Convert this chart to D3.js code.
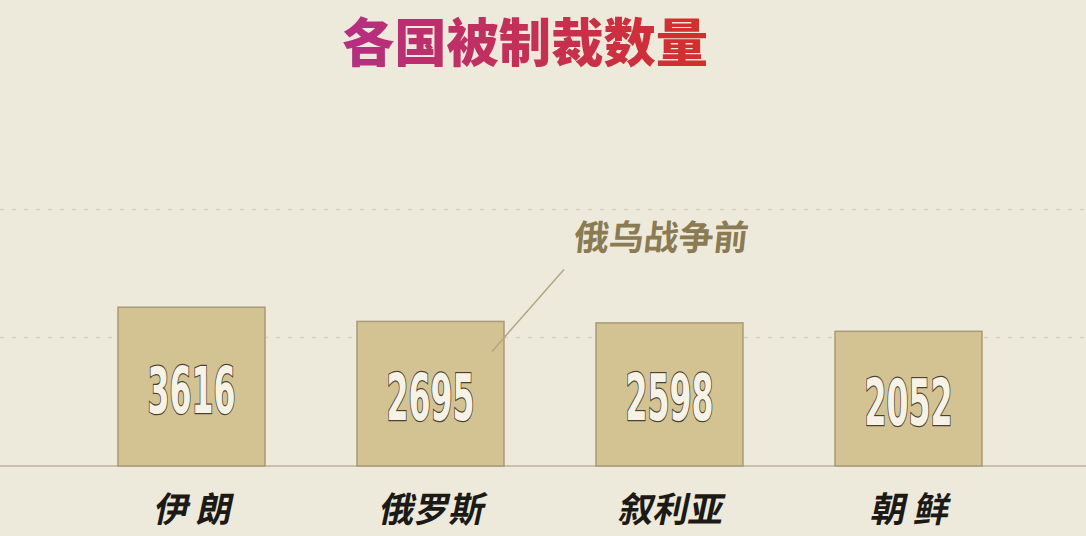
<!DOCTYPE html>
<html>
<head>
<meta charset="utf-8">
<script src="https://cdn.jsdelivr.net/npm/d3@7/dist/d3.min.js"></script>
<style>
  html, body { margin: 0; padding: 0; background: #eeeadb; }
  svg { display: block; }
</style>
</head>
<body>
<svg id="chart"></svg>
<script>
const width = 1086;
const height = 536;

// data
const countries = ['伊 朗', '俄罗斯', '叙利亚', '朝 鲜'];
const sanctions = [3616, 2695, 2598, 2052];
const gridValues = [1700, 10000];  // dashed guide lines
const noteText = '俄乌战争前';
const noteIndex = 1;  // bar the note points at

const baseY = 466;

const svg = d3.select('#chart')
    .attr('width', width)
    .attr('height', height);

svg.append('rect')
    .attr('width', width)
    .attr('height', height)
    .attr('fill', '#eeeadb');

const defs = svg.append('defs');
const grad = defs.append('linearGradient')
    .attr('id', 'titleGrad')
    .attr('x1', '0%').attr('x2', '100%')
    .attr('y1', '0%').attr('y2', '0%');
grad.append('stop').attr('offset', '0%').attr('stop-color', '#b52f82');
grad.append('stop').attr('offset', '100%').attr('stop-color', '#d3302a');

const x = d3.scaleBand()
    .domain(countries)
    .range([72, 1028])
    .paddingInner(0.385)
    .paddingOuter(0.1925);

// the scale does not start at zero (axis is cut)
const y = d3.scaleLinear()
    .domain([-6700, 10000])
    .range([baseY, 209]);

// grid
svg.append('g')
    .attr('class', 'grid')
  .selectAll('line')
  .data(gridValues)
  .enter()
  .append('line')
    .attr('x1', 0)
    .attr('x2', width)
    .attr('y1', d => Math.round(y(d)) + 0.5)
    .attr('y2', d => Math.round(y(d)) + 0.5)
    .style('stroke', '#d6d1c3')
    .style('stroke-width', 1.5)
    .style('stroke-dasharray', '4 8');

// baseline
svg.append('line')
    .attr('x1', 0)
    .attr('x2', width)
    .attr('y1', baseY)
    .attr('y2', baseY)
    .style('stroke', '#bdb3a0')
    .style('stroke-width', 1.5);

// title
svg.append('text')
    .attr('x', 525)
    .attr('y', 62)
    .attr('text-anchor', 'middle')
    .attr('font-family', '"Noto Sans CJK SC", sans-serif')
    .attr('font-weight', 900)
    .attr('font-size', 52)
    .attr('textLength', 366)
    .attr('lengthAdjust', 'spacingAndGlyphs')
    .attr('fill', 'url(#titleGrad)')
    .text('各国被制裁数量');

const data = countries.map((c, i) => ({name: c, value: sanctions[i]}));

const bars = svg.append('g')
    .attr('class', 'bars')
  .selectAll('.bar')
  .data(data)
  .enter()
  .append('g')
    .attr('class', 'bar');

bars.append('rect')
    .attr('x', d => x(d.name))
    .attr('y', d => y(d.value))
    .attr('width', x.bandwidth())
    .attr('height', d => baseY - y(d.value))
    .style('fill', '#d3c292')
    .style('stroke', '#a99a78')
    .style('stroke-width', 1.5);

bars.append('text')
    .attr('x', d => x(d.name) + x.bandwidth() / 2)
    .attr('y', d => (y(d.value) + baseY) / 2 + 26)
    .attr('text-anchor', 'middle')
    .attr('font-family', '"Liberation Sans Narrow", "DejaVu Sans Condensed", sans-serif')
    .attr('font-weight', 'bold')
    .attr('font-size', 64)
    .attr('textLength', 88)
    .attr('lengthAdjust', 'spacingAndGlyphs')
    .style('fill', '#f6f2e6')
    .style('stroke', '#4a4232')
    .style('stroke-width', 2.5)
    .style('paint-order', 'stroke')
    .text(d => d.value);

// category labels, slanted
bars.append('text')
    .attr('transform', d => `translate(${x(d.name) + x.bandwidth() / 2}, 522) skewX(-12)`)
    .attr('text-anchor', 'middle')
    .attr('font-family', '"Noto Sans CJK SC", sans-serif')
    .attr('font-weight', 'bold')
    .attr('font-size', 35)
    .attr('xml:space', 'preserve')
    .style('fill', '#1c1a16')
    .text(d => d.name);

// annotation
const nd = data[noteIndex];
const nx = x(nd.name) + x.bandwidth();
svg.append('line')
    .attr('x1', nx - 12)
    .attr('y1', y(nd.value) + 30)
    .attr('x2', nx + 60)
    .attr('y2', y(nd.value) - 52)
    .style('stroke', '#b3a685')
    .style('stroke-width', 1.5);

svg.append('text')
    .attr('transform', 'translate(573, 250) skewX(-6)')
    .attr('font-family', '"Noto Sans CJK SC", sans-serif')
    .attr('font-weight', 'bold')
    .attr('font-size', 35)
    .attr('textLength', 174)
    .attr('lengthAdjust', 'spacingAndGlyphs')
    .style('fill', '#8a7b53')
    .text(noteText);
</script>
</body>
</html>
